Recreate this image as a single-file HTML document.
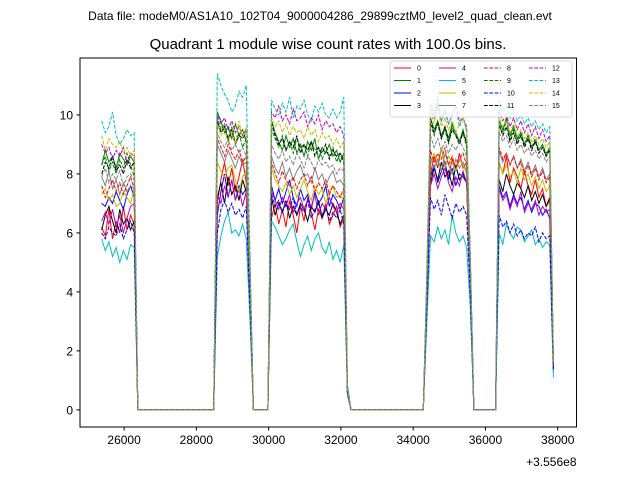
<!DOCTYPE html>
<html><head><meta charset="utf-8"><style>
html,body{margin:0;padding:0;background:#fff;}
svg{display:block;font-family:"Liberation Sans","DejaVu Sans",sans-serif;}
</style></head><body>
<svg id="chart" width="640" height="480" viewBox="0 0 640 480" xmlns="http://www.w3.org/2000/svg">
<rect width="640" height="480" fill="#fff"/>
<text x="320" y="20" font-size="12" text-anchor="middle">Data file: modeM0/AS1A10_102T04_9000004286_29899cztM0_level2_quad_clean.evt</text>
<text x="328" y="49" font-size="15" text-anchor="middle">Quadrant 1 module wise count rates with 100.0s bins.</text>
<g id="plot"></g>
<g id="axes"></g>
<g id="legend"></g>
</svg>
<script>
const times=[25380,25480,25580,25680,25780,25880,25980,26080,26180,26280,26380,28480,28580,28680,28780,28880,28980,29080,29180,29280,29380,29480,29580,29980,30080,30180,30280,30380,30480,30580,30680,30780,30880,30980,31080,31180,31280,31380,31480,31580,31680,31780,31880,31980,32080,32180,32280,34280,34380,34480,34580,34680,34780,34880,34980,35080,35180,35280,35380,35480,35580,35680,36280,36380,36480,36580,36680,36780,36880,36980,37080,37180,37280,37380,37480,37580,37680,37780,37880];
const s0=[6.2,5.9,6.8,5.8,6.4,6.0,6.9,6.1,6.6,6.3,0,0,7.0,7.8,8.4,7.6,8.2,7.4,7.9,8.5,7.7,4.2,0,0,6.5,7.0,6.3,6.8,6.2,7.1,6.6,6.0,6.9,6.4,7.2,6.7,6.1,6.8,6.5,7.0,6.3,6.6,6.9,6.2,6.5,0.6,0,0,3.8,8.0,8.6,8.2,8.9,8.3,7.9,8.5,8.1,8.7,8.2,8.4,4.5,0,0,8.4,8.0,8.6,7.7,8.2,7.9,7.5,8.1,7.6,7.3,7.8,7.2,7.5,6.9,7.1,1.5];
const s1=[8.3,8.8,8.4,8.6,8.2,8.7,8.5,8.3,8.6,8.4,0,0,10.1,9.8,9.4,9.6,9.2,9.7,9.3,9.5,9.1,5.0,0,0,9.8,9.4,9.1,8.8,9.3,8.9,9.2,8.7,9.0,8.6,9.1,8.8,9.2,8.5,8.9,8.7,9.0,8.6,8.8,8.4,8.7,0.7,0,0,4.5,9.9,9.5,9.8,9.3,9.6,9.2,9.7,9.4,9.1,9.5,9.0,5.2,0,0,9.8,9.5,9.9,9.3,9.6,9.2,9.4,9.0,9.3,8.9,9.1,8.8,9.0,8.6,8.9,1.6];
const s2=[7.0,6.9,7.2,7.0,7.4,7.1,6.8,7.3,7.6,7.2,0,0,6.6,7.4,8.0,7.2,7.8,7.1,7.6,7.3,7.5,4.0,0,0,7.6,7.1,7.5,7.0,7.4,7.8,7.2,6.9,7.5,7.1,7.3,6.8,7.4,7.0,7.2,7.6,6.9,7.3,7.1,6.8,7.2,0.6,0,0,3.8,7.9,8.3,7.7,8.1,8.4,7.8,8.2,7.6,8.0,7.9,7.7,4.3,0,0,7.6,7.2,7.4,6.9,7.3,7.0,7.2,6.8,7.1,6.7,7.0,6.9,6.6,6.8,6.5,1.4];
const s3=[6.1,6.6,6.9,6.4,6.0,6.8,6.3,6.5,6.1,6.4,0,0,7.2,7.7,7.0,7.9,7.3,7.6,7.1,7.8,7.4,3.8,0,0,7.2,6.6,7.0,6.7,7.1,6.5,6.9,6.6,7.0,6.8,6.4,6.9,6.7,7.1,6.5,6.8,6.6,7.0,6.7,6.3,6.6,0.6,0,0,3.7,7.7,8.2,7.8,8.4,7.9,8.1,7.6,8.3,7.8,8.0,7.7,4.2,0,0,7.8,7.4,8.0,7.6,7.3,7.7,7.5,7.2,7.6,7.1,7.4,7.0,7.3,6.9,7.2,1.5];
const s4=[6.4,6.7,6.3,6.8,6.2,6.6,6.0,6.5,6.9,7.0,0,0,7.3,7.0,7.6,7.2,7.8,7.1,7.5,6.9,7.4,3.7,0,0,7.4,7.1,6.8,7.2,6.9,7.3,6.7,7.0,7.2,6.8,7.1,6.9,7.3,6.6,7.0,6.8,7.2,6.9,6.7,7.0,6.8,0.6,0,0,3.6,7.6,8.0,7.5,7.9,8.2,7.7,7.4,7.9,7.6,8.1,7.7,4.1,0,0,7.5,7.1,7.3,6.8,7.2,6.9,7.4,6.7,7.0,6.8,7.1,6.6,6.9,6.7,6.8,1.4];
const s5=[5.8,5.4,5.7,5.2,5.5,5.0,5.4,5.1,5.6,5.5,0,0,5.2,5.9,6.4,6.7,6.0,6.1,5.9,6.3,5.8,3.2,0,0,6.4,6.2,5.9,5.6,5.8,6.1,6.3,5.7,5.2,5.6,5.9,5.4,5.8,6.0,5.5,5.3,5.7,5.1,5.4,5.0,5.6,0.5,0,0,3.0,5.9,5.7,6.2,5.8,6.1,5.6,6.6,6.0,5.7,5.9,5.5,3.5,0,0,6.0,5.6,6.3,6.0,5.8,6.2,6.1,5.7,5.9,6.1,5.6,5.8,5.5,5.7,5.6,1.1];
const s6=[7.3,7.5,7.1,7.3,6.9,7.0,7.4,7.2,7.0,7.5,0,0,8.4,8.1,7.9,8.2,8.3,7.8,7.4,7.9,8.1,4.1,0,0,8.2,7.8,7.6,7.4,7.7,7.3,7.6,7.2,7.5,7.8,7.4,7.1,7.6,7.3,7.5,7.0,7.4,7.6,7.2,7.3,7.1,0.6,0,0,3.9,8.3,8.7,8.4,8.9,8.2,8.6,8.4,8.1,8.5,8.3,8.0,4.4,0,0,8.4,8.0,8.3,7.9,8.1,7.7,8.2,7.8,8.0,7.6,7.9,7.5,7.8,7.4,7.6,1.5];
const s7=[7.9,7.6,8.1,7.5,7.8,7.3,7.7,7.4,7.6,7.5,0,0,9.0,8.7,8.4,8.8,8.5,8.2,8.6,8.3,8.4,4.4,0,0,8.6,8.2,8.0,8.4,7.9,8.2,7.8,8.1,8.3,7.9,8.0,7.7,8.2,7.8,8.0,7.6,7.9,8.1,7.7,7.8,7.6,0.7,0,0,4.0,8.6,8.2,8.5,8.1,8.7,8.3,8.0,8.5,8.2,8.4,8.1,4.5,0,0,8.8,8.4,8.7,8.3,8.6,8.2,8.5,8.1,8.4,8.0,8.3,7.9,8.2,7.8,8.0,1.6];
const s8=[7.6,7.2,7.5,7.8,7.4,7.7,7.3,7.6,7.9,7.5,0,0,9.2,8.9,8.6,9.0,8.7,8.5,8.8,8.4,8.6,4.6,0,0,8.4,8.0,7.7,8.1,7.8,7.6,7.9,7.5,7.8,8.0,7.6,7.9,7.4,7.7,7.5,7.8,7.3,7.6,7.4,7.2,7.5,0.6,0,0,4.0,8.8,8.4,8.7,8.5,8.9,8.3,8.6,8.2,8.5,8.7,8.3,4.6,0,0,8.9,8.5,8.7,8.3,8.6,8.2,8.4,8.0,8.3,7.9,8.2,7.8,8.1,7.7,7.9,1.5];
const s9=[8.3,8.6,8.1,8.4,8.0,8.5,8.2,8.7,8.3,7.9,0,0,9.9,9.5,9.7,9.2,9.6,9.0,9.4,8.9,9.2,4.9,0,0,9.5,9.2,8.9,9.3,8.8,9.1,8.7,9.2,8.9,9.0,8.6,9.1,8.8,8.9,8.5,8.8,8.6,8.9,8.4,8.7,8.5,0.7,0,0,4.4,9.7,9.3,9.8,9.2,9.5,9.0,9.6,9.3,9.1,9.4,8.9,5.0,0,0,9.6,9.4,9.8,9.2,9.5,9.1,9.4,9.0,9.3,8.9,9.2,8.8,9.0,8.7,8.9,1.6];
const s10=[6.0,5.8,6.2,6.0,5.9,6.3,5.8,6.1,6.4,6.0,0,0,6.0,6.8,7.1,6.7,7.0,6.6,6.8,6.5,6.9,3.6,0,0,7.3,6.9,7.1,6.7,7.0,6.8,7.2,6.6,6.9,6.7,7.1,6.5,6.8,7.0,6.6,6.9,6.4,6.7,6.5,6.8,6.3,0.6,0,0,3.5,7.2,6.8,7.1,6.6,7.3,6.9,6.5,7.0,6.7,6.9,6.6,3.9,0,0,6.6,6.2,6.4,6.0,6.3,5.9,6.1,5.8,6.0,5.9,6.2,5.7,6.0,5.8,5.9,1.3];
const s11=[8.0,8.4,8.2,8.6,8.1,8.3,8.0,8.5,8.2,8.4,0,0,9.8,9.4,9.6,9.1,9.5,9.0,9.3,9.2,9.4,4.9,0,0,9.7,9.3,9.0,9.2,8.8,9.1,8.9,9.3,8.7,9.0,8.8,9.1,8.6,8.9,8.7,9.0,8.5,8.8,8.6,8.7,8.4,0.7,0,0,4.4,9.8,9.4,9.7,9.2,9.6,9.1,9.5,9.3,9.0,9.4,9.1,5.0,0,0,9.7,9.3,9.6,9.1,9.4,9.0,9.3,8.9,9.2,8.8,9.1,8.7,8.9,8.6,8.8,1.6];
const s12=[9.0,8.7,8.9,8.5,8.8,8.6,8.9,8.4,8.7,8.6,0,0,10.0,9.7,9.9,9.5,9.8,9.4,9.6,9.3,9.5,5.0,0,0,10.1,9.9,10.3,9.8,10.0,9.7,10.2,9.8,9.9,10.1,9.6,9.9,9.7,10.0,9.5,9.8,9.6,9.7,9.4,9.6,9.3,0.8,0,0,4.6,10.2,9.9,10.4,9.8,10.1,9.7,10.0,10.3,9.8,9.9,9.6,5.2,0,0,10.1,9.8,10.0,9.6,9.9,9.5,9.8,9.4,9.7,9.3,9.6,9.2,9.5,9.1,9.3,1.7];
const s13=[9.8,9.4,9.6,10.1,9.3,9.0,9.2,9.5,9.3,9.4,0,0,11.4,11.0,10.7,10.5,10.1,10.3,10.8,10.6,11.0,5.6,0,0,10.5,10.2,10.0,10.4,10.1,10.6,9.9,10.3,10.2,10.5,10.0,9.8,10.3,10.1,10.4,10.0,9.9,10.2,9.9,10.1,10.6,0.9,0,0,4.9,10.4,10.0,10.6,9.8,10.2,9.7,10.0,10.3,9.6,9.9,9.5,5.3,0,0,10.5,10.1,10.3,9.9,10.2,9.8,10.0,9.7,9.9,9.6,9.8,9.5,9.7,9.4,9.6,1.7];
const s14=[9.3,8.8,9.2,9.0,8.9,9.1,8.7,8.9,8.6,8.8,0,0,9.7,9.3,9.5,9.1,9.4,9.0,9.8,9.2,9.6,4.9,0,0,9.9,9.6,9.8,9.4,9.7,9.3,9.6,9.4,9.5,9.2,9.6,9.3,9.5,9.1,9.4,9.2,9.3,9.0,9.2,8.9,9.1,0.7,0,0,4.5,10.1,9.7,10.3,9.6,9.9,9.5,9.8,9.4,9.7,9.9,9.4,5.1,0,0,9.9,9.6,9.8,9.4,9.7,9.3,9.5,9.2,9.4,9.1,9.3,9.0,9.2,8.9,9.1,1.6];
const s15=[7.9,8.2,7.7,8.0,7.8,8.1,7.6,7.9,8.0,7.8,0,0,9.4,9.1,8.9,9.2,8.8,9.0,8.7,8.9,8.6,4.7,0,0,9.0,8.7,8.5,8.8,8.4,8.6,8.3,8.7,8.5,8.2,8.6,8.4,8.1,8.5,8.3,8.4,8.2,8.3,8.0,8.2,8.1,0.7,0,0,4.2,9.3,8.9,9.2,8.8,9.1,8.7,9.0,8.8,9.1,8.9,8.6,4.8,0,0,9.4,9.1,9.3,8.9,9.2,8.8,9.0,8.7,8.9,8.6,8.8,8.5,8.7,8.4,8.6,1.6];
const seriesValues=[s0,s1,s2,s3,s4,s5,s6,s7,s8,s9,s10,s11,s12,s13,s14,s15];
const seriesLabels=["0","1","2","3","4","5","6","7","8","9","10","11","12","13","14","15"];
const xTicks=[26000,28000,30000,32000,34000,36000,38000];
const yTicks=[0,2,4,6,8,10];

const NS="http://www.w3.org/2000/svg";
const colors=["#ff0000","#008000","#0000ff","#000000","#bf00bf","#00bfbf","#bfbf00","#808080"];
const L=80,R=576.5,T=58,B=427;
const X0=24780,X1=38520,Y0=-0.58,Y1=11.93;
function xs(v){return L+(v-X0)/(X1-X0)*(R-L);}
function ys(v){return B-(v-Y0)/(Y1-Y0)*(B-T);}
function mk(tag,attrs,parent){const e=document.createElementNS(NS,tag);for(const k in attrs)e.setAttribute(k,attrs[k]);parent.appendChild(e);return e;}
const plot=document.getElementById('plot');
const axes=document.getElementById('axes');
const legend=document.getElementById('legend');

seriesValues.forEach((vals,i)=>{
  const d=vals.map((v,j)=>(j?'L':'M')+xs(times[j]).toFixed(2)+','+ys(v).toFixed(2)).join(' ');
  const p=mk('path',{d:d,fill:'none',stroke:colors[i%8],'stroke-width':1,'stroke-dasharray':i>=8?'3.7,1.6':'none'},plot);
  
  
});

const frame=mk('rect',{x:L,y:T,width:R-L,height:B-T,fill:'none',stroke:'#000','stroke-width':1},axes);


xTicks.forEach(t=>{
  const x=xs(t);
  const tk=mk('line',{x1:x,x2:x,y1:B,y2:B+3.5,stroke:'#000'},axes);
  
  
  const tx=mk('text',{x:x,y:B+17,'font-size':12,'text-anchor':'middle'},axes);
  tx.textContent=t;
  
  
});
yTicks.forEach(t=>{
  const y=ys(t);
  const tk=mk('line',{x1:L-3.5,x2:L,y1:y,y2:y,stroke:'#000'},axes);
  
  
  const tx=mk('text',{x:L-7,y:y+4.5,'font-size':12,'text-anchor':'end'},axes);
  tx.textContent=t;
  
  
});
const off=mk('text',{x:R,y:466,'font-size':12,'text-anchor':'end'},axes);
off.textContent='+3.556e8';



const lb=mk('rect',{x:390,y:61,width:182,height:56,fill:'#fff','fill-opacity':0.8,stroke:'#ccc','stroke-width':0.8,rx:2},legend);


seriesLabels.forEach((lab,i)=>{
  const col=Math.floor(i/4),row=i%4;
  const x=394+col*45,y=68+row*12.5;
  const ln=mk('line',{x1:x,x2:x+17,y1:y,y2:y,stroke:colors[i%8],'stroke-width':1,'stroke-dasharray':i>=8?'3.7,1.6':'none'},legend);
  
  
  const tx=mk('text',{x:x+23,y:y+2.5,'font-size':7},legend);
  tx.textContent=lab;
  
  
});
</script>
</body></html>
